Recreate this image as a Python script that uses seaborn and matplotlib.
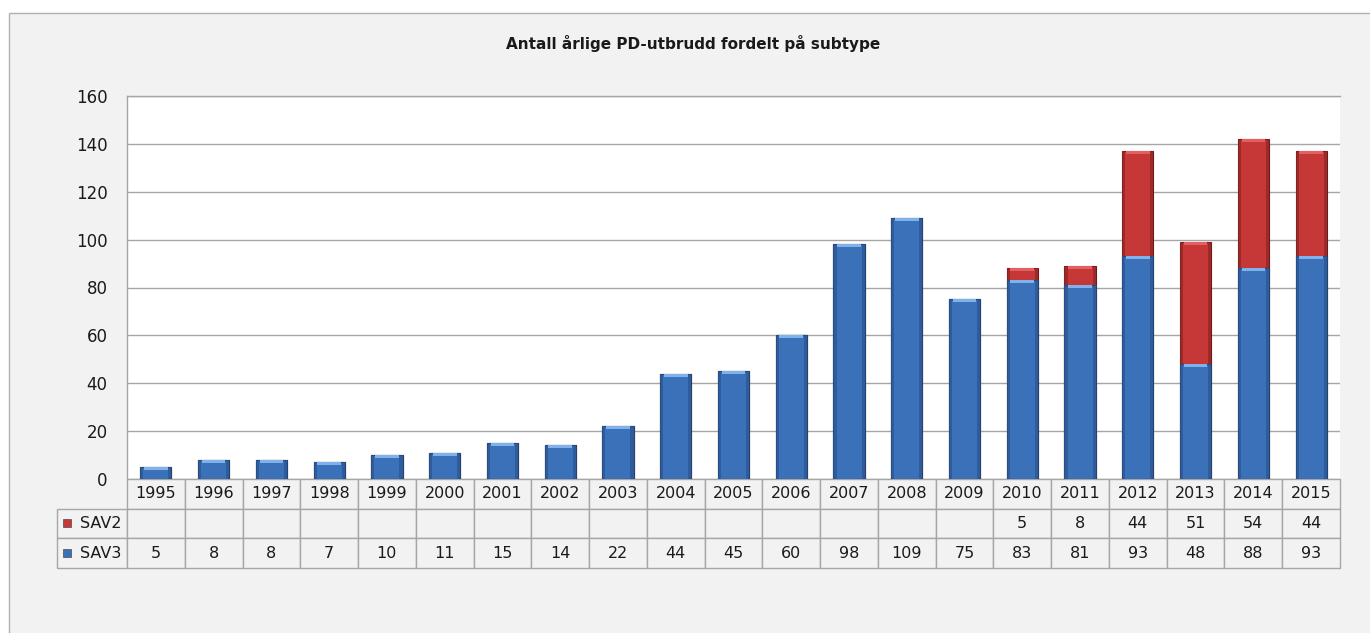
import numpy as np
import pandas as pd
import matplotlib
matplotlib.use("Agg")
import matplotlib.pyplot as plt
from matplotlib.patches import Rectangle
import seaborn as sns

years = ["1995", "1996", "1997", "1998", "1999", "2000", "2001", "2002", "2003",
         "2004", "2005", "2006", "2007", "2008", "2009", "2010", "2011", "2012",
         "2013", "2014", "2015"]
sav2 = [None] * 15 + [5, 8, 44, 51, 54, 44]
sav3 = [5, 8, 8, 7, 10, 11, 15, 14, 22, 44, 45, 60, 98, 109, 75, 83, 81, 93, 48, 88, 93]
series_names = ["SAV2", "SAV3"]
title = "Antall årlige PD-utbrudd fordelt på subtype"

blue = "#3b71b9"
red = "#c63838"
grid_col = "#a6a6a6"
bg = "#f2f2f2"

df = pd.DataFrame({"year": years, "SAV2": sav2, "SAV3": sav3})
df["total"] = df["SAV3"] + df["SAV2"].fillna(0)

sns.set_style("white")
plt.rcParams["font.family"] = ["DejaVu Sans"]

fig = plt.figure(figsize=(13.7, 6.33), dpi=100)
fig.patch.set_facecolor("white")
fig.patches.append(Rectangle((9 / 1370, -0.01), 1, 1.01 - 13 / 633, transform=fig.transFigure,
                             facecolor=bg, edgecolor="#b0b0b0", lw=1, zorder=-10))

ax = fig.add_axes([127 / 1370, 1 - 479 / 633, 1213 / 1370, 383 / 633])
ax.set_facecolor("white")

# stacked bars: total (red) behind, SAV3 (blue) in front
sns.barplot(data=df, x="year", y="total", color=red, saturation=1, width=0.54,
            edgecolor="#6e1a1a", linewidth=0.8, ax=ax, zorder=2)
n_red = len(ax.patches)
sns.barplot(data=df, x="year", y="SAV3", color=blue, saturation=1, width=0.54,
            edgecolor="#24436f", linewidth=0.8, ax=ax, zorder=3)

# simple bevel: light strip on top of each segment, darker strips on the sides
for i, p in enumerate(list(ax.patches)):
    x, y, w, h = p.get_x(), p.get_y(), p.get_width(), p.get_height()
    if h <= 0:
        continue
    light = "#e46060" if i < n_red else "#7fb2ea"
    dark = "#8e2424" if i < n_red else "#2a5490"
    z = p.get_zorder() + 0.1
    cap = min(1.2, h * 0.3)
    ax.add_patch(Rectangle((x + w * 0.12, y + h - cap), w * 0.76, cap, facecolor=light,
                           lw=0, zorder=z))
    ax.add_patch(Rectangle((x, y), w * 0.1, h, facecolor=dark, lw=0, zorder=z, alpha=0.7))
    ax.add_patch(Rectangle((x + w * 0.9, y), w * 0.1, h, facecolor=dark, lw=0, zorder=z,
                           alpha=0.7))

ax.set_ylim(0, 160)
ax.set_yticks(range(0, 161, 20))
ax.set_xlim(-0.5, len(years) - 0.5)
ax.set_xticks([])
ax.set_xlabel("")
ax.set_ylabel("")
ax.set_axisbelow(True)
ax.yaxis.grid(True, color=grid_col, lw=1)
ax.tick_params(axis="y", length=0, pad=14, labelsize=12, labelcolor="#1a1a1a")
for s in ["right", "bottom"]:
    ax.spines[s].set_visible(False)
for s in ["left", "top"]:
    ax.spines[s].set_color(grid_col)
    ax.spines[s].set_linewidth(1)

# data table below the plot
def fmt(v):
    return "" if v is None or pd.isna(v) else str(int(v))

cell_text = [["SAV2"] + [fmt(v) for v in sav2],
             ["SAV3"] + [fmt(v) for v in sav3]]
lab_w = 70 / 1213
col_w = 1 / len(years)
tbl = ax.table(cellText=cell_text, colLabels=[""] + years,
               colWidths=[lab_w] + [col_w] * len(years),
               cellLoc="center", bbox=[-lab_w, -89 / 383, 1 + lab_w, 89 / 383])
tbl.auto_set_font_size(False)
tbl.set_fontsize(11.5)
for (r, c), cell in tbl.get_celld().items():
    cell.set_facecolor(bg)
    cell.set_edgecolor(grid_col)
    cell.set_linewidth(1)
    cell.get_text().set_color("#1a1a1a")
    if r == 0 and c == 0:
        cell.set_visible(False)
    if c == 0 and r > 0:
        cell.get_text().set_ha("right")
        cell._loc = "right"
        cell.PAD = 0.08

for i, (name, col) in enumerate(zip(series_names, [red, blue])):
    yc = -(44 + 30 * i) / 383
    ax.plot([-60 / 1213], [yc], marker="s", ms=6, color=col, mec="#333333", mew=0.4,
            transform=ax.transAxes, clip_on=False)

fig.text(0.506, 1 - 44 / 633, title, ha="center", va="center", fontsize=11,
         fontweight="bold", color="#1a1a1a")

fig.savefig("out.png", dpi=100)
